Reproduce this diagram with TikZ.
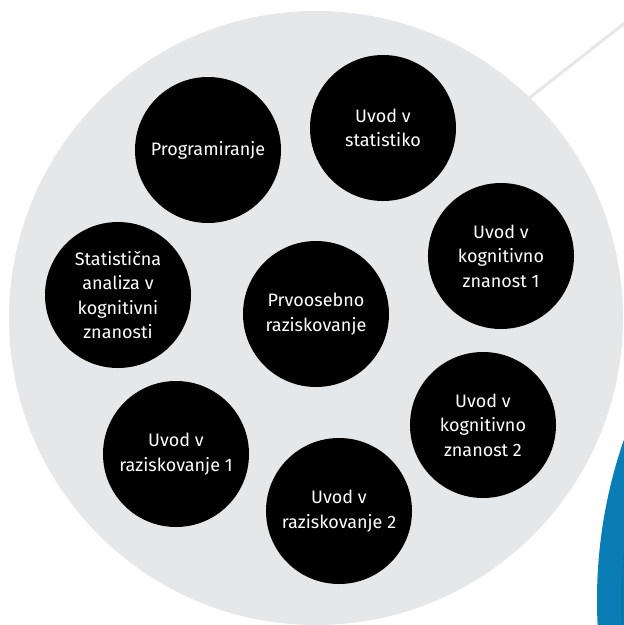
\documentclass[tikz,border=0pt]{standalone}
\usepackage{fontspec}
\setmainfont{Fira Sans}
\definecolor{bggray}{HTML}{E6E7E8}
\definecolor{blueA}{HTML}{0A7DB7}
\definecolor{blueB}{HTML}{0A74AB}
\begin{document}
\begin{tikzpicture}[x=1pt,y=-1pt,
  course/.style={circle,fill=black,minimum size=146pt,inner sep=0pt,text=white,align=center,
    font=\fontsize{18}{24.5}\selectfont},
  halo/.style={circle,fill=bggray,inner sep=0pt,minimum size=614pt}]
\useasboundingbox (0,0) rectangle (624,625);
\begin{scope}
\clip (0,0) rectangle (624,625);
\fill[blueA] (1085,600) circle (488);
\fill[blueB] (1092,600) circle (471);
\node[halo] (bg) at (316,318) {};
\coordinate (lend) at (626,22);
\draw[bggray,line width=3pt] (bg.center) ++(-46:302) coordinate (lstart) -- (lend);
\end{scope}
\node[course] (prog) at (208,150) {Programiranje};
\node[course] (stat) at (383,128) {Uvod v\\statistiko};
\node[course] (kog1) at (501,256) {Uvod v\\kognitivno\\znanost 1};
\node[course] (san) at (118,295) {Statistična\\analiza v\\kognitivni\\znanosti};
\node[course] (prv) at (316,314) {Prvoosebno\\raziskovanje};
\node[course] (kog2) at (483,425) {Uvod v\\kognitivno\\znanost 2};
\node[course] (raz1) at (176,454) {Uvod v\\raziskovanje 1};
\node[course] (raz2) at (339,511) {Uvod v\\raziskovanje 2};
\end{tikzpicture}
\end{document}
